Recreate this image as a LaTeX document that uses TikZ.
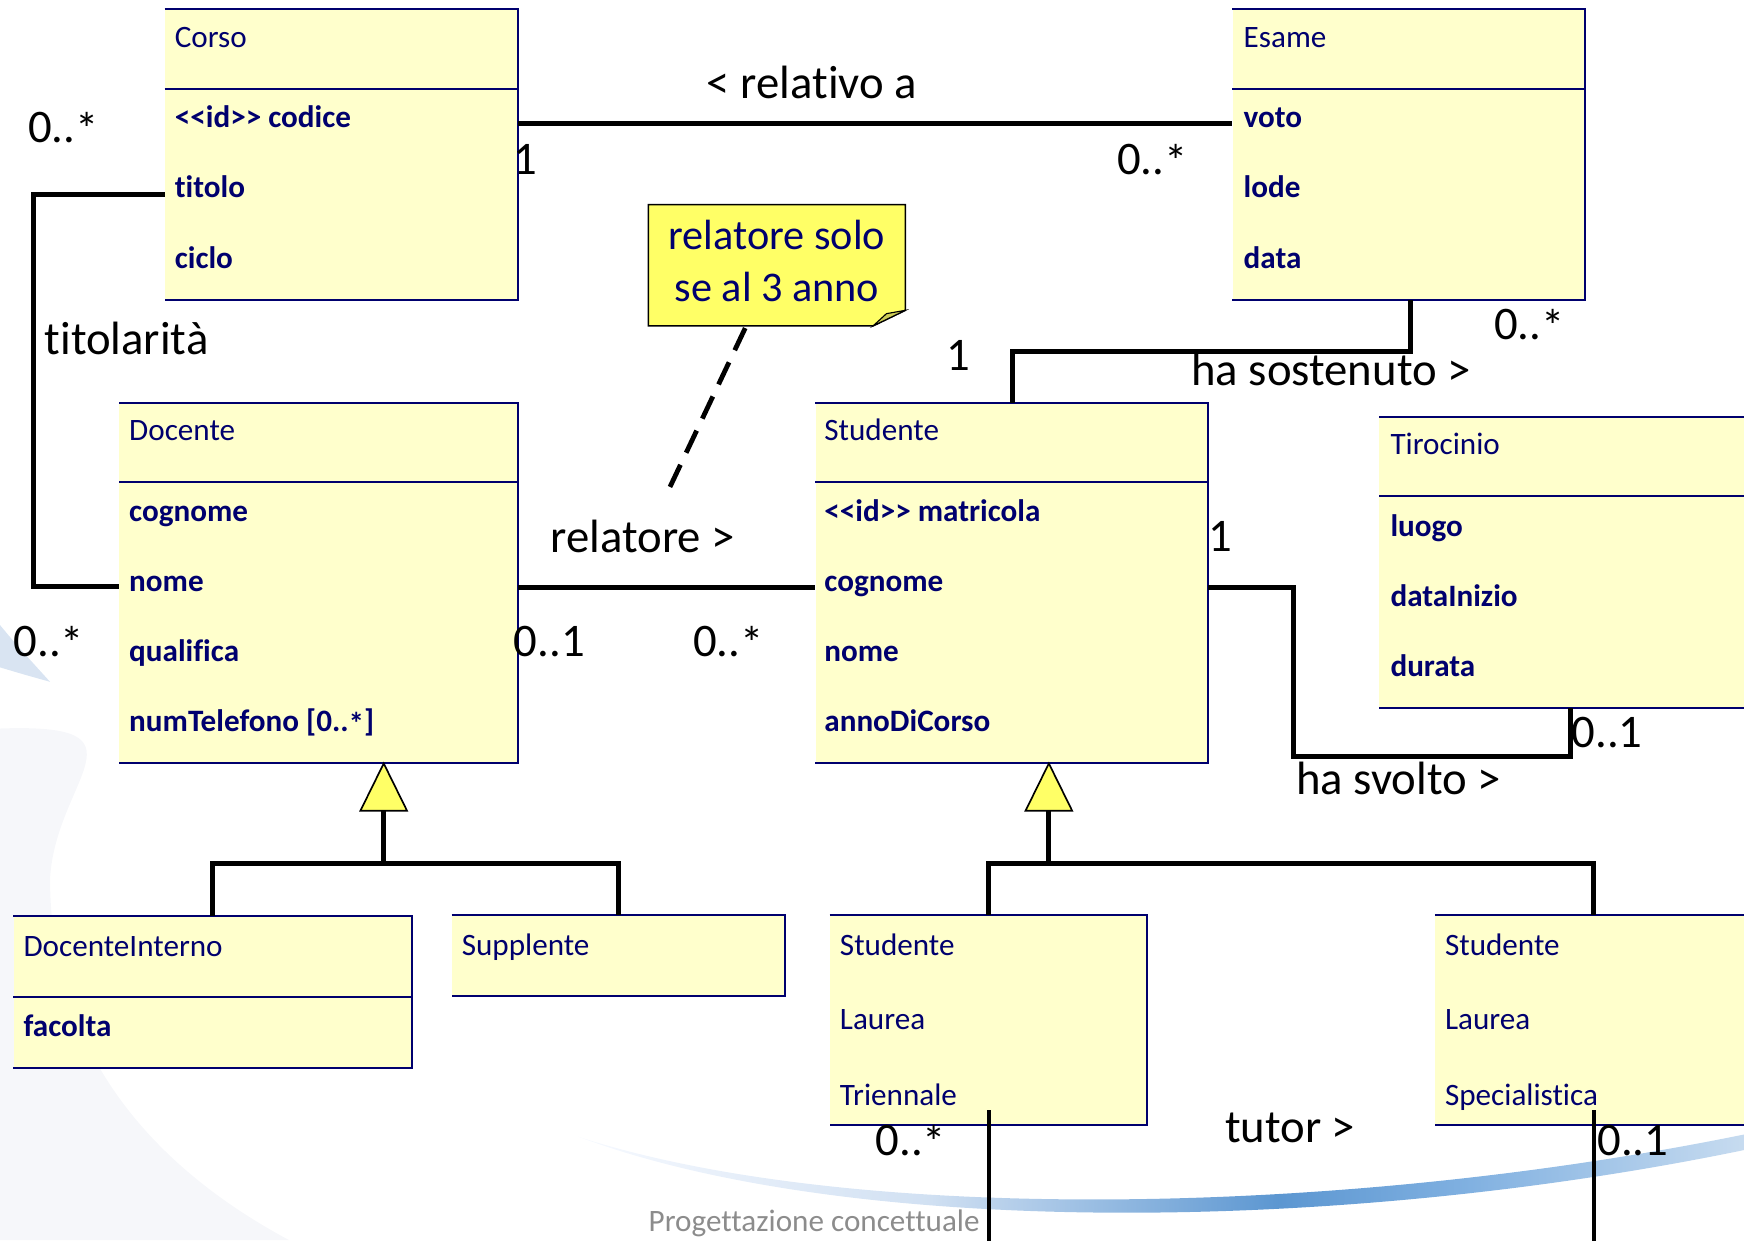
\documentclass[tikz,border=0pt]{standalone}
\usepackage{fontspec}
\setmainfont{Carlito}[Ligatures={TeX,NoCommon}]
\usetikzlibrary{calc}

\definecolor{clsfill}{RGB}{255,255,204}
\definecolor{navy}{RGB}{0,0,110}
\definecolor{notefill}{RGB}{255,255,102}
\definecolor{notefold}{RGB}{205,205,85}
\definecolor{footgray}{RGB}{140,140,140}
\definecolor{bgwedge}{RGB}{217,228,242}
\definecolor{bggray}{RGB}{246,247,250}

% blue band along the bottom of the slide
\pgfdeclarehorizontalshading{swoosh}{100bp}{%
  rgb(0bp)=(1,1,1); rgb(25bp)=(0.97,0.98,1); rgb(40bp)=(0.82,0.88,0.95);
  rgb(55bp)=(0.36,0.59,0.82); rgb(63bp)=(0.50,0.69,0.88);
  rgb(75bp)=(0.78,0.86,0.94); rgb(100bp)=(0.78,0.86,0.94)}

% multiplicity "many" with the star set a little lower
\newcommand\manymult{0..\raisebox{-0.07em}{*}}

\tikzset{
  cls/.style={fill=clsfill, draw=none, inner sep=0pt, anchor=north west},
  clsline/.style={draw=navy, line width=1.8pt},
  ttl/.style={anchor=west, inner sep=0pt, text=navy,
    font=\fontsize{28}{30}\selectfont, text height=22pt, text depth=6pt},
  attr/.style={ttl, font=\fontsize{28}{30}\selectfont\bfseries},
  lbl/.style={inner sep=0pt, text=black,
    font=\fontsize{42}{44}\selectfont, text height=33pt, text depth=9pt},
  assoc/.style={draw=black, line width=4.3pt},
  tutorline/.style={draw=black, line width=3.3pt},
  genarrow/.style={draw=black, line width=1.5pt, fill=notefill, line join=miter},
  notebox/.style={draw=black, line width=1.4pt, fill=notefill},
  notelink/.style={draw=black, line width=4.3pt, dash pattern=on 22pt off 12pt},
}

\begin{document}
\begin{tikzpicture}[x=1pt,y=-1pt]
\useasboundingbox (0,0) rectangle (1568,1115);
\clip (0,0) rectangle (1568,1115);

% ---- slide background ----
\fill[bggray] (0,655) .. controls (140,650) and (50,700) .. (45,790)
  .. controls (45,930) and (120,1040) .. (260,1115) -- (0,1115) -- cycle;
\fill[bgwedge] (0,562) .. controls (15,580) .. (45,613)
  .. controls (20,606) .. (0,600) -- cycle;
\shade[shading=swoosh] (520,1022) .. controls (760,1100) and (1200,1095) .. (1568,1020)
  -- (1568,1034) .. controls (1200,1110) and (760,1112) .. (520,1022) -- cycle;

% ---- class boxes (no left border) ----
% Corso
\node[cls, minimum width=317pt, minimum height=261pt] (corso) at (148,8) {};
\draw[clsline] (corso.north west) -- (corso.north east) -- (corso.south east) -- (corso.south west);
\draw[clsline] ($(corso.north west)+(0,72)$) -- ($(corso.north east)+(0,72)$);
\node[ttl] (corso-t) at (157,35) {Corso};
\node[attr] (corso-a1) at (157,107) {<\kern0pt<id>\kern0pt> codice};
\node[attr] (corso-a2) at (157,170) {titolo};
\node[attr] (corso-a3) at (157,233) {ciclo};

% Esame
\node[cls, minimum width=317pt, minimum height=261pt] (esame) at (1108,8) {};
\draw[clsline] (esame.north west) -- (esame.north east) -- (esame.south east) -- (esame.south west);
\draw[clsline] ($(esame.north west)+(0,72)$) -- ($(esame.north east)+(0,72)$);
\node[ttl] (esame-t) at (1118,35) {Esame};
\node[attr] (esame-a1) at (1118,107) {voto};
\node[attr] (esame-a2) at (1118,170) {lode};
\node[attr] (esame-a3) at (1118,233) {data};

% Docente
\node[cls, minimum width=358pt, minimum height=324pt] (docente) at (107,362) {};
\draw[clsline] (docente.north west) -- (docente.north east) -- (docente.south east) -- (docente.south west);
\draw[clsline] ($(docente.north west)+(0,71)$) -- ($(docente.north east)+(0,71)$);
\node[ttl] (docente-t) at (116,388) {Docente};
\node[attr] (docente-a1) at (116,461) {cognome};
\node[attr] (docente-a2) at (116,524) {nome};
\node[attr] (docente-a3) at (116,587) {qualifica};
\node[attr] (docente-a4) at (116,650) {numTelefono [\manymult]};

% Studente
\node[cls, minimum width=353pt, minimum height=324pt] (studente) at (733,362) {};
\draw[clsline] (studente.north west) -- (studente.north east) -- (studente.south east) -- (studente.south west);
\draw[clsline] ($(studente.north west)+(0,71)$) -- ($(studente.north east)+(0,71)$);
\node[ttl] (studente-t) at (741,388) {Studente};
\node[attr] (studente-a1) at (741,461) {<\kern0pt<id>\kern0pt> matricola};
\node[attr] (studente-a2) at (741,524) {cognome};
\node[attr] (studente-a3) at (741,587) {nome};
\node[attr] (studente-a4) at (741,650) {annoDiCorso};

% Tirocinio
\node[cls, minimum width=400pt, minimum height=261pt] (tirocinio) at (1240,375) {};
\draw[clsline] (tirocinio.north west) -- (tirocinio.north east) -- (tirocinio.south east) -- (tirocinio.south west);
\draw[clsline] ($(tirocinio.north west)+(0,71)$) -- ($(tirocinio.north east)+(0,71)$);
\node[ttl] (tirocinio-t) at (1250,401) {Tirocinio};
\node[attr] (tirocinio-a1) at (1250,474) {luogo};
\node[attr] (tirocinio-a2) at (1250,537) {dataInizio};
\node[attr] (tirocinio-a3) at (1250,600) {durata};

% DocenteInterno
\node[cls, minimum width=358pt, minimum height=136pt] (dint) at (12,824) {};
\draw[clsline] (dint.north west) -- (dint.north east) -- (dint.south east) -- (dint.south west);
\draw[clsline] ($(dint.north west)+(0,72)$) -- ($(dint.north east)+(0,72)$);
\node[ttl] (dint-t) at (21,852) {DocenteInterno};
\node[attr] (dint-a1) at (21,924) {facolta};

% Supplente
\node[cls, minimum width=299pt, minimum height=72pt] (suppl) at (406,823) {};
\draw[clsline] (suppl.north west) -- (suppl.north east) -- (suppl.south east) -- (suppl.south west);
\node[ttl] (suppl-t) at (415,851) {Supplente};

% Studente Laurea Triennale
\node[cls, minimum width=285pt, minimum height=188pt] (slt) at (746,823) {};
\draw[clsline] (slt.north west) -- (slt.north east) -- (slt.south east) -- (slt.south west);
\node[ttl] (slt-t1) at (755,851) {Studente};
\node[ttl] (slt-t2) at (755,918) {Laurea};
\node[ttl] (slt-t3) at (755,986) {Triennale};

% Studente Laurea Specialistica
\node[cls, minimum width=350pt, minimum height=188pt] (sls) at (1290,823) {};
\draw[clsline] (sls.north west) -- (sls.north east) -- (sls.south east) -- (sls.south west);
\node[ttl] (sls-t1) at (1299,851) {Studente};
\node[ttl] (sls-t2) at (1299,918) {Laurea};
\node[ttl] (sls-t3) at (1299,986) {Specialistica};

% ---- note ----
\draw[notebox] (583,184) -- (814,184) -- (814,279) -- (785,293) -- (583,293) -- cycle;
\filldraw[draw=black, line width=1pt, fill=notefold] (785,293) -- (814,279) -- (797,282) -- cycle;
\node[inner sep=0pt, align=center, text=navy, font=\fontsize{38}{47}\selectfont]
  (note) at (698.5,234.5) {relatore solo\\se al 3 anno};
\coordinate (note-base) at (670,295);
\coordinate (note-tip) at (598,447);
\draw[notelink] (note-base) -- (note-tip);

% ---- associations ----
% relativo a
\draw[assoc] (corso.east |- 0,111) -- (esame.west |- 0,111);
\node[lbl] (l-rel) at (730,77) {< relativo a};
\node[lbl] (m-rel-a) at (472,145) {1};
\node[lbl] (m-rel-b) at (1036,145) {\manymult};

% titolarita
\draw[assoc] (corso.west |- 0,175) -| (30,527) -- (docente.west |- 0,527);
\node[lbl, anchor=west] (l-tit) at (40,307) {titolarità};
\node[lbl] (m-tit-a) at (57,116) {\manymult};
\node[lbl] (m-tit-b) at (44,578) {\manymult};

% relatore
\draw[assoc] (docente.east |- 0,528) -- (studente.west |- 0,528);
\node[lbl] (l-relt) at (578,485) {relatore >};
\node[lbl] (m-relt-a) at (494,578) {0..1};
\node[lbl] (m-relt-b) at (655,578) {\manymult};

% ha sostenuto
\draw[assoc] (studente.north -| 910,0) |- (1268,316) -- (esame.south -| 1268,0);
\node[lbl, anchor=west] (l-sost) at (1071,335) {ha sostenuto >};
\node[lbl] (m-sost-a) at (862,321) {1};
\node[lbl] (m-sost-b) at (1375,293) {\manymult};

% ha svolto
\draw[assoc] (studente.east |- 0,528) -- (1163,528) |- (1412,680) -- (tirocinio.south -| 1412,0);
\node[lbl, anchor=west] (l-svol) at (1165,702) {ha svolto >};
\node[lbl] (m-svol-a) at (1097,484) {1};
\node[lbl] (m-svol-b) at (1445,660) {0..1};

% tutor
\draw[tutorline] (slt.south -| 889,0) ++(0,-13) -- (889,1130);
\draw[tutorline] (sls.south -| 1433,0) ++(0,-13) -- (1433,1130);
\node[lbl] (l-tutor) at (1160,1015) {tutor >};
\node[lbl] (m-tut-a) at (819,1027) {\manymult};
\node[lbl] (m-tut-b) at (1468,1027) {0..1};

% ---- generalisations ----
\draw[assoc] (345,729) -- (345,776);
\draw[assoc, line join=miter] (dint.north -| 191,0) -- (191,776) -- (556,776) -- (suppl.north -| 556,0);
\draw[genarrow] (docente.south -| 345,0) -- (366,729) -- (324,729) -- cycle;

\draw[assoc] (943,729) -- (943,776);
\draw[assoc, line join=miter] (slt.north -| 889,0) -- (889,776) -- (1433,776) -- (sls.north -| 1433,0);
\draw[genarrow] (studente.south -| 943,0) -- (964,729) -- (922,729) -- cycle;

% ---- footer ----
\node[inner sep=0pt, text=footgray, font=\fontsize{28}{30}\selectfont,
  text height=22pt, text depth=6pt] (footer) at (732,1099) {Progettazione concettuale};
\end{tikzpicture}
\end{document}
